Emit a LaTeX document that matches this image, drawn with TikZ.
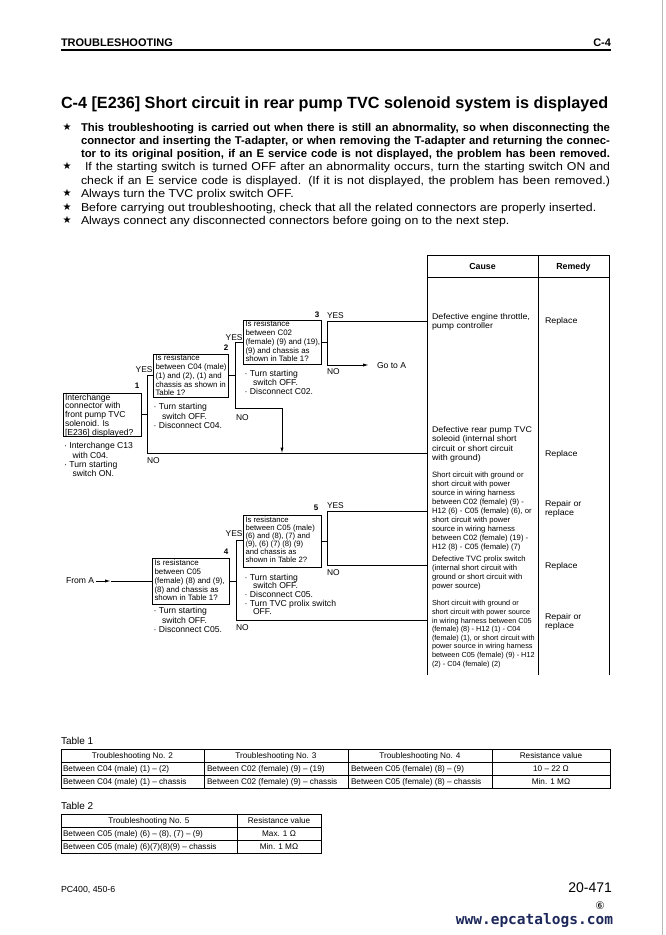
\documentclass[tikz,border=0pt]{standalone}
\usepackage{fontspec}
\setmainfont{Liberation Sans}
\newfontfamily\wide[FakeStretch=1.08]{Liberation Sans}
\newfontfamily\djv{DejaVu Sans}
\newfontfamily\djvmono{DejaVu Sans Mono}
\usetikzlibrary{arrows.meta}
\newcommand\bdot{\makebox[5.4pt][l]{\textperiodcentered}}
\newcommand\hin{\hspace*{8.5pt}}
\definecolor{urlblue}{RGB}{28,40,90}
\begin{document}
\begin{tikzpicture}[x=1pt,y=-1pt,
  every node/.style={inner sep=0pt,outer sep=0pt},
  T/.style n args={3}{font=\fontsize{#1}{#2}\selectfont#3, anchor=north west, align=left, yshift={0.7*#2pt-0.358*#1pt}, execute at begin node=\strut},
  L/.style n args={2}{font=\fontsize{#1}{#1}\selectfont#2, anchor=base west, yshift={-0.358*#1pt}},
  LC/.style n args={2}{font=\fontsize{#1}{#1}\selectfont#2, anchor=base, yshift={-0.358*#1pt}},
  LE/.style n args={2}{font=\fontsize{#1}{#1}\selectfont#2, anchor=base east, yshift={-0.358*#1pt}},
  qbox/.style 2 args={draw, line width=0.9pt, anchor=north west, minimum width=#1pt, minimum height=#2pt},
  wire/.style={line width=1pt},
  arr/.style={line width=1pt, -{Latex[length=6pt,width=3.2pt]}},
  rule/.style={line width=0.8pt},
  yn/.style={L={8.4}{}},
  yne/.style={LE={8.4}{}},
  num/.style={LC={8}{\bfseries}},
  bul/.style={T={8.6}{9.4}{}},
  qt/.style={T={7.9}{8.9}{}},
  star/.style={LC={10}{\djv}}
]
\useasboundingbox (0,0) rectangle (665,935);
\fill[white] (0,0) rectangle (665,935);
\draw[gray!55, line width=0.8pt] (662.5,0) -- (662.5,935);

% ---------- header ----------
\node[L={11}{\bfseries}] (hdr) at (61,42.5) {TROUBLESHOOTING};
\node[LE={11}{\bfseries}] (hdrr) at (611,42.5) {C-4};
\draw[line width=1.3pt] (61,50) -- (611,50);

% ---------- title ----------
\node[L={16.2}{\bfseries}] (title) at (61,103) {C-4 [E236] Short circuit in rear pump TVC solenoid system is displayed};

% ---------- notes ----------
\node[star] (s1) at (67,126.5) {★};
\node[star] (s2) at (67,165.5) {★};
\node[star] (s3) at (67,192.5) {★};
\node[star] (s4) at (67,206.5) {★};
\node[star] (s5) at (67,219.5) {★};
\node[L={11.3}{\bfseries}] (n1) at (81,127) {\makebox[529pt][s]{This troubleshooting is carried out when there is still an abnormality, so when disconnecting the}};
\node[L={11.3}{\bfseries}] (n2) at (81,140) {\makebox[529pt][s]{connector and inserting the T-adapter, or when removing the T-adapter and returning the connec-}};
\node[L={11.3}{\bfseries}] (n3) at (81,153) {\makebox[529pt][s]{tor to its original position, if an E service code is not displayed, the problem has been removed.}};
\node[L={11.4}{\wide}] (n4) at (85,166) {\makebox[525pt][s]{If the starting switch is turned OFF after an abnormality occurs, turn the starting switch ON and}};
\node[L={11.4}{\wide}] (n5) at (81,180) {\makebox[529pt][s]{check if an E service code is displayed. (If it is not displayed, the problem has been removed.)}};
\node[L={11.4}{\wide}] (n6) at (81,193) {Always turn the TVC prolix switch OFF.};
\node[L={11.4}{\wide}] (n7) at (81,207) {Before carrying out troubleshooting, check that all the related connectors are properly inserted.};
\node[L={11.4}{\wide}] (n8) at (81,220) {Always connect any disconnected connectors before going on to the next step.};

% ---------- cause / remedy table ----------
\coordinate (tTL) at (427,255);
\coordinate (tTM) at (538,255);
\coordinate (tTR) at (609,255);
\coordinate (tBL) at (427,675);
\coordinate (tBM) at (538,675);
\coordinate (tBR) at (609,675);
\draw[rule] (tTL) -- (tTR);
\draw[rule] (427,277) -- (609,277);
\draw[rule] (tTL) -- (tBL);
\draw[rule] (tTM) -- (tBM);
\draw[rule] (tTR) -- (tBR);
\node[LC={8.8}{\bfseries}] (hcause) at (482.5,266) {Cause};
\node[LC={8.8}{\bfseries}] (hremedy) at (573.5,266) {Remedy};

\node[T={8.2}{8.6}{\wide}] (cA) at (432,317) {Defective engine throttle,\\pump controller};
\node[L={8.2}{\wide}] (rA) at (545,321) {Replace};
\node[T={8.2}{9.4}{\wide}] (cB) at (432,430) {Defective rear pump TVC\\soleoid (internal short\\circuit or short circuit\\with ground)};
\node[L={8.2}{\wide}] (rB) at (545,454) {Replace};
\node[T={7.7}{9}{}] (cC) at (432,475) {Short circuit with ground or\\short circuit with power\\source in wiring harness\\between C02 (female) (9) -\\H12 (6) - C05 (female) (6), or\\short circuit with power\\source in wiring harness\\between C02 (female) (19) -\\H12 (8) - C05 (female) (7)};
\node[T={8.2}{9}{\wide}] (rC) at (545,504) {Repair or\\replace};
\node[T={7.7}{9}{}] (cD) at (432,559) {Defective TVC prolix switch\\(internal short circuit with\\ground or short circuit with\\power source)};
\node[L={8.2}{\wide}] (rD) at (545,566) {Replace};
\node[T={7.3}{8.6}{}] (cE) at (432,604) {Short circuit with ground or\\short circuit with power source\\in wiring harness between C05\\(female) (8) - H12 (1) - C04\\(female) (1), or short circuit with\\power source in wiring harness\\between C05 (female) (9) - H12\\(2) - C04 (female) (2)};
\node[T={8.2}{9}{\wide}] (rE) at (545,617) {Repair or\\replace};

% ---------- flowchart upper ----------
\node[qbox={78}{43}] (b1) at (63,393) {};
\node[T={8.6}{8.9}{}] (b1t) at (65,397) {Interchange\\connector with\\front pump TVC\\solenoid. Is\\{}[E236] displayed?};
\node[num] (n1l) at (137,386) {1};
\node[T={8.6}{9.3}{}] (b1n) at (64,446) {\bdot Interchange C13\\\hin with C04.\\\bdot Turn starting\\\hin switch ON.};

\node[qbox={75}{43}] (b2) at (153,354) {};
\node[qt] (b2t) at (155.5,358) {Is resistance\\between C04 (male)\\(1) and (2), (1) and\\chassis as shown in\\Table 1?};
\node[num] (n2l) at (226,348) {2};
\node[bul] (b2n) at (153.5,407) {\bdot Turn starting\\\hin switch OFF.\\\bdot Disconnect C04.};

\node[qbox={78}{44}] (b3) at (243,320) {};
\node[qt] (b3t) at (245.5,324) {Is resistance\\between C02\\(female) (9) and (19),\\(9) and chassis as\\shown in Table 1?};
\node[num] (n3l) at (317,315) {3};
\node[T={8.6}{9}{}] (b3n) at (244.5,373) {\bdot Turn starting\\\hin switch OFF.\\\bdot Disconnect C02.};

\coordinate (j1t) at (147,375.5);
\coordinate (j1b) at (147,453);
\coordinate (eB) at (427,453);
\draw[wire] (b1.east) -- (b1.east -| j1t);
\draw[wire] (j1t) -- (j1b) -- (eB);
\draw[wire] (j1t) -- (b2.west);
\node[yne] (y1) at (152.5,369) {YES};
\node[yn] (no1) at (147,460) {NO};

\coordinate (j2t) at (235,342);
\coordinate (j2b) at (235,408);
\coordinate (j2c) at (282,408);
\coordinate (j2d) at (282,453.5);
\draw[wire] (b2.east) -- (b2.east -| j2t);
\draw[wire] (j2t) -- (j2b) -- (j2c);
\draw[arr] (j2c) -- (j2d);
\draw[wire] (j2t) -- (b3.west);
\node[yne] (y2) at (242.5,337) {YES};
\node[yn] (no2) at (236,417) {NO};

\coordinate (j3t) at (327,321);
\coordinate (j3b) at (327,365);
\coordinate (eA) at (427,321);
\coordinate (gtip) at (369,365);
\draw[wire] (b3.east) -- (b3.east -| j3t);
\draw[wire] (eA) -- (j3t) -- (j3b);
\draw[arr] (j3b) -- (gtip);
\node[L={8.6}{}] (gota) at (377,365) {Go to A};
\node[yn] (y3) at (327,315) {YES};
\node[yn] (no3) at (327,371) {NO};

% ---------- flowchart lower ----------
\node[L={8.6}{}] (froma) at (66,580) {From A};
\coordinate (fa) at (111,581);
\draw[arr] ([xshift=1.5pt]froma.east |- fa) -- (fa);
\node[qbox={77}{46}] (b4) at (152,558) {};
\draw[wire] (fa) -- (fa -| b4.west);
\node[qt] (b4t) at (154.5,563) {Is resistance\\between C05\\(female) (8) and (9),\\(8) and chassis as\\shown in Table 1?};
\node[num] (n4l) at (226,552) {4};
\node[bul] (b4n) at (153.5,611) {\bdot Turn starting\\\hin switch OFF.\\\bdot Disconnect C05.};

\node[qbox={78}{52}] (b5) at (243,515) {};
\node[T={7.7}{7.9}{}] (b5t) at (245.5,520) {Is resistance\\between C05 (male)\\(6) and (8), (7) and\\(9), (6) (7) (8) (9)\\and chassis as\\shown in Table 2?};
\node[num] (n5l) at (316,508) {5};
\node[T={8.6}{8.6}{}] (b5n) at (244.5,577) {\bdot Turn starting\\\hin switch OFF.\\\bdot Disconnect C05.\\\bdot Turn TVC prolix switch\\\hin OFF.};

\coordinate (j4t) at (236,540);
\coordinate (j4b) at (236,620);
\coordinate (eE) at (427,620);
\draw[wire] (b4.east) -- (b4.east -| j4t);
\draw[wire] (j4t) -- (j4b) -- (eE);
\draw[wire] (j4t) -- (j4t -| b5.west);
\node[yne] (y4) at (242.5,533) {YES};
\node[yn] (no4) at (236,627) {NO};

\coordinate (j5t) at (327,511);
\coordinate (j5b) at (327,565);
\coordinate (eC) at (427,511);
\coordinate (eD) at (427,565);
\draw[wire] (b5.east) -- (b5.east -| j5t);
\draw[wire] (eC) -- (j5t) -- (j5b) -- (eD);
\node[yn] (y5) at (327,505) {YES};
\node[yn] (no5) at (327,572) {NO};

% ---------- Table 1 ----------
\node[L={10}{}] (tab1) at (61,741) {Table 1};
\draw[rule] (61,749) rectangle (610,788);
\draw[rule] (61,762) -- (610,762);
\draw[rule] (61,775) -- (610,775);
\draw[rule] (204,749) -- (204,788);
\draw[rule] (348,749) -- (348,788);
\draw[rule] (492,749) -- (492,788);
\node[LC={8.2}{}] (t1h1) at (132.5,755.5) {Troubleshooting No. 2};
\node[LC={8.2}{}] (t1h2) at (276,755.5) {Troubleshooting No. 3};
\node[LC={8.2}{}] (t1h3) at (420,755.5) {Troubleshooting No. 4};
\node[LC={8.2}{}] (t1h4) at (551,755.5) {Resistance value};
\node[L={8.2}{}] (t1a1) at (63,768.5) {Between C04 (male) (1) – (2)};
\node[L={8.2}{}] (t1a2) at (207,768.5) {Between C02 (female) (9) – (19)};
\node[L={8.2}{}] (t1a3) at (351,768.5) {Between C05 (female) (8) – (9)};
\node[LC={8.2}{}] (t1a4) at (551,768.5) {10 – 22 Ω};
\node[L={8.2}{}] (t1b1) at (63,781.5) {Between C04 (male) (1) – chassis};
\node[L={8.2}{}] (t1b2) at (207,781.5) {Between C02 (female) (9) – chassis};
\node[L={8.2}{}] (t1b3) at (351,781.5) {Between C05 (female) (8) – chassis};
\node[LC={8.2}{}] (t1b4) at (551,781.5) {Min. 1 MΩ};

% ---------- Table 2 ----------
\node[L={10}{}] (tab2) at (61,806) {Table 2};
\draw[rule] (61,814) rectangle (321,853);
\draw[rule] (61,827) -- (321,827);
\draw[rule] (61,840) -- (321,840);
\draw[rule] (237,814) -- (237,853);
\node[LC={8.2}{}] (t2h1) at (149,820.5) {Troubleshooting No. 5};
\node[LC={8.2}{}] (t2h2) at (279,820.5) {Resistance value};
\node[L={8.2}{}] (t2a1) at (63,833.5) {Between C05 (male) (6) – (8), (7) – (9)};
\node[LC={8.2}{}] (t2a2) at (279,833.5) {Max. 1 Ω};
\node[L={8.2}{}] (t2b1) at (63,846.5) {Between C05 (male) (6)(7)(8)(9) – chassis};
\node[LC={8.2}{}] (t2b2) at (279,846.5) {Min. 1 MΩ};

% ---------- footer ----------
\node[L={8.8}{}] (model) at (61,889) {PC400, 450-6};
\node[LE={14}{}] (page) at (612,887) {20-471};
\node[LC={10.5}{\djv}] (rev) at (600,905.5) {⑥};
\node[LE={14.5}{\djvmono\bfseries\color{urlblue}}] (url) at (613,919) {www.epcatalogs.com};
\end{tikzpicture}
\end{document}
